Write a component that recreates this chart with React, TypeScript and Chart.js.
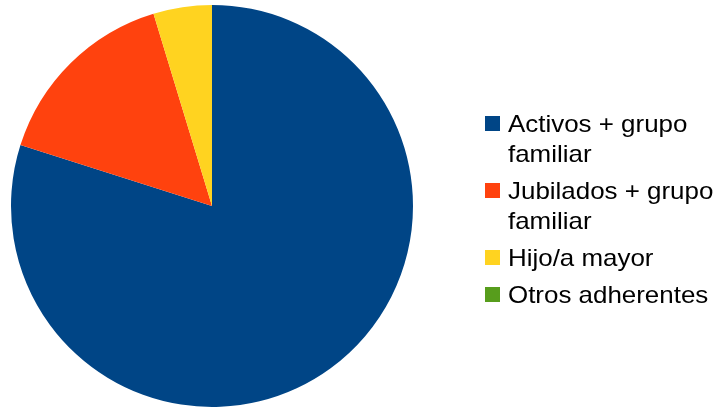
import React, { useEffect, useRef } from "react";
import { Chart, registerables } from "chart.js";

Chart.register(...registerables);

const categories: string[][] = [
  ["Activos + grupo", "familiar"],
  ["Jubilados + grupo", "familiar"],
  ["Hijo/a mayor"],
  ["Otros adherentes"],
];
const values: number[] = [79.9, 15.4, 4.7, 0];
const colors: string[] = ["#004586", "#ff420e", "#ffd320", "#579d1c"];

const legendPlugin = {
  id: "customLegend",
  afterDraw(chart: any) {
    const ctx = chart.ctx;
    const labels = chart.data.labels as string[][];
    const bg = chart.data.datasets[0].backgroundColor as string[];
    const lineH = 30;
    const gap = 7;
    let baseline = 131.5;
    ctx.save();
    ctx.font = '24px "Liberation Sans", Arial, sans-serif';
    ctx.textBaseline = "alphabetic";
    ctx.textAlign = "left";
    labels.forEach((lines, i) => {
      ctx.fillStyle = bg[i];
      ctx.fillRect(485, baseline - 15.5, 15, 15);
      ctx.fillStyle = "#000000";
      lines.forEach((t, j) => {
        ctx.save();
        ctx.translate(508, baseline + j * lineH);
        ctx.scale(1.08, 1);
        ctx.fillText(t, 0, 0);
        ctx.restore();
      });
      baseline += lines.length * lineH + gap;
    });
    ctx.restore();
  },
};

export default function App() {
  const ref = useRef<HTMLCanvasElement>(null);
  useEffect(() => {
    document.body.style.margin = "0";
    const chart = new Chart(ref.current!, {
      type: "pie",
      data: {
        labels: categories,
        datasets: [
          {
            data: values,
            backgroundColor: colors,
            borderWidth: 0,
          },
        ],
      },
      options: {
        responsive: false,
        animation: false,
        layout: { padding: { top: 5, bottom: 1, left: 11, right: 305 } },
        plugins: {
          legend: { display: false },
          tooltip: { enabled: false },
        },
      },
      plugins: [legendPlugin],
    });
    return () => chart.destroy();
  }, []);
  return (
    <canvas
      ref={ref}
      width={718}
      height={408}
      style={{ display: "block", width: 718, height: 408 }}
    />
  );
}
